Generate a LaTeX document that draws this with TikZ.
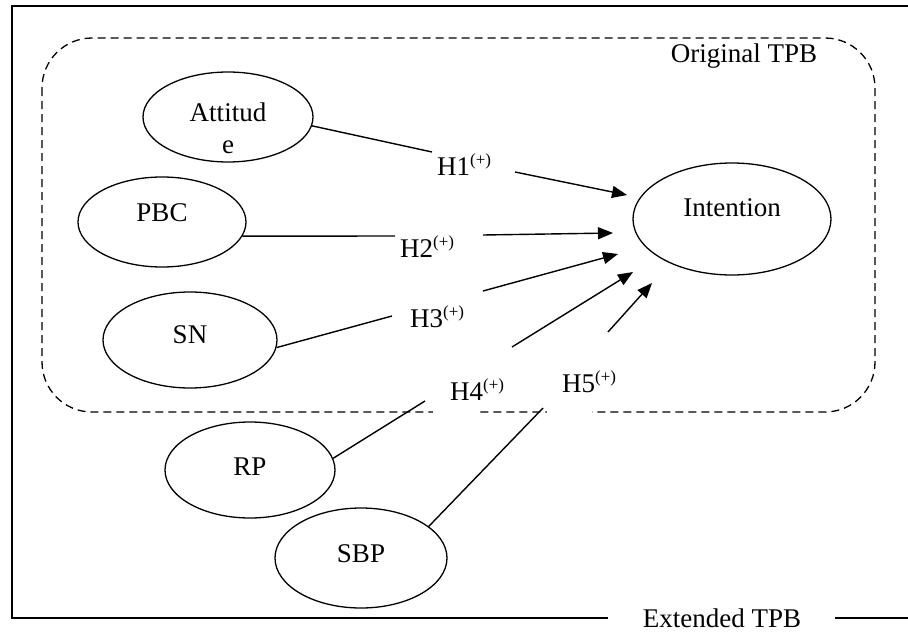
\documentclass[tikz,border=0pt]{standalone}
\usepackage{fontspec}
\setmainfont{Liberation Serif}
\usetikzlibrary{shapes.geometric,arrows.meta}
\newcommand\hypsup[1]{\raisebox{10pt}{\fontsize{17}{20}\selectfont #1}}
\begin{document}
\begin{tikzpicture}[x=1pt,y=-1pt,
  every node/.style={font=\fontsize{27}{32}\selectfont},
  ell/.style={draw,ellipse,line width=1.3pt,inner sep=0pt,text height=18pt},
  hyp/.style={anchor=base west,inner sep=0pt},
  conn/.style={line width=1.4pt},
  arr/.style={line width=1.4pt,-{Triangle[length=15pt,width=12pt]}},
  frame/.style={line width=1.8pt},
  tpb/.style={dash pattern=on 8pt off 5pt,line width=1.3pt}
]
\useasboundingbox (0,0) rectangle (908,632);

% outer frame (Extended TPB)
\draw[frame] (608,618) -- (12,618) -- (12,6) -- (912,6);
\draw[frame] (835,618) -- (912,618);
\node (ext) at (722,618) {Extended TPB};

% dashed frame (Original TPB)
\draw[tpb,rounded corners=50pt] (42,38) rectangle (875,412);
\fill[white] (433,405) rectangle (480,419);
\fill[white] (547,405) rectangle (592,419);
\node[anchor=base] (orig) at (744,62) {Original TPB};

% constructs
\node[ell,minimum width=170pt,minimum height=90pt] (att) at (228,117) {};
\node[align=center,anchor=north,inner sep=0pt] (attT) at (228,103) {Attitud\\e};
\node[ell,minimum width=168pt,minimum height=90pt,text depth=20pt] (pbc) at (162,222) {PBC};
\node[ell,minimum width=174pt,minimum height=96pt,text depth=12pt] (sn) at (190,340) {SN};
\node[ell,minimum width=170pt,minimum height=96pt,text depth=8pt] (rp) at (250,470) {RP};
\node[ell,minimum width=172pt,minimum height=100pt,text depth=10pt] (sbp) at (361,558) {SBP};
\node[ell,minimum width=198pt,minimum height=112pt,text depth=24pt] (int) at (732,219) {Intention};

% hypothesis labels
\node[hyp] (h1) at (437,175) {H1\hypsup{(+)}};
\node[hyp] (h2) at (400,257) {H2\hypsup{(+)}};
\node[hyp] (h3) at (410,327) {H3\hypsup{(+)}};
\node[hyp] (h4) at (450,400) {H4\hypsup{(+)}};
\node[hyp] (h5) at (562,392) {H5\hypsup{(+)}};

% line ends before labels
\coordinate (e1) at (432,152);
\coordinate (e2) at (395,236);
\coordinate (e3) at (392,316);
\coordinate (e4) at (425,401);
\coordinate (e5) at (543,408);
\draw[conn] (att.-6) -- (e1);
\draw[conn] (pbc.-10) -- (e2);
\draw[conn] (sn.-5) -- (e3);
\draw[conn] (rp.8) -- (e4);
\draw[conn] (sbp.25) -- (e5);

% arrows after labels
\coordinate (s1) at (515,172); \coordinate (t1) at (627,195);
\coordinate (s2) at (483,235); \coordinate (t2) at (613,233);
\coordinate (s3) at (483,291); \coordinate (t3) at (618,254);
\coordinate (s4) at (512,347); \coordinate (t4) at (633,272);
\coordinate (s5) at (608,332); \coordinate (t5) at (652,283);
\draw[arr] (s1) -- (t1);
\draw[arr] (s2) -- (t2);
\draw[arr] (s3) -- (t3);
\draw[arr] (s4) -- (t4);
\draw[arr] (s5) -- (t5);
\end{tikzpicture}
\end{document}
